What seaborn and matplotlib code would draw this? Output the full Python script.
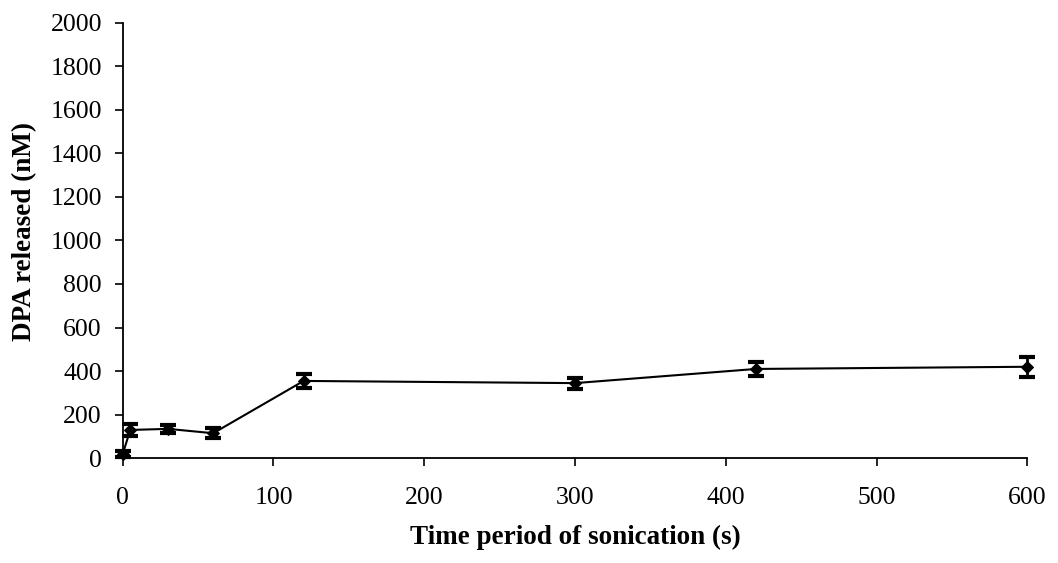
import matplotlib
matplotlib.use("Agg")
import matplotlib.pyplot as plt
import seaborn as sns
import pandas as pd

time_s = [0, 5, 30, 60, 120, 300, 420, 600]
dpa_nM = [20, 130, 135, 115, 355, 345, 410, 420]
err_nM = [12, 28, 18, 22, 32, 25, 32, 45]
x_ticks = [0, 100, 200, 300, 400, 500, 600]
y_ticks = [0, 200, 400, 600, 800, 1000, 1200, 1400, 1600, 1800, 2000]

sns.set_theme(style="ticks")
plt.rcParams['font.family'] = ['Liberation Serif', 'DejaVu Serif']
plt.rcParams['text.color'] = 'black'
plt.rcParams['axes.labelcolor'] = 'black'

df = pd.DataFrame({"t": time_s, "dpa": dpa_nM, "err": err_nM})

fig = plt.figure(figsize=(10.58, 5.63), dpi=100)
ax = fig.add_axes([0.116, 0.186, 0.855, 0.774])
sns.lineplot(data=df, x="t", y="dpa", ax=ax, color="black", lw=1.5,
             marker="D", markersize=6, markeredgecolor="black", clip_on=False)
ax.errorbar(df["t"], df["dpa"], yerr=df["err"], fmt="none", ecolor="black",
            elinewidth=2, capsize=6, capthick=3, clip_on=False)

ax.set_xlim(0, 600)
ax.set_ylim(0, 2000)
ax.set_xticks(x_ticks)
ax.set_yticks(y_ticks)
ax.tick_params(axis="both", labelsize=18.5, direction="out", length=6, width=1.2,
               colors="black", labelcolor="black")
ax.tick_params(axis="x", pad=15)
ax.tick_params(axis="y", pad=9)
for s in ["top", "right"]:
    ax.spines[s].set_visible(False)
for s in ["left", "bottom"]:
    ax.spines[s].set_color("black")
    ax.spines[s].set_linewidth(1.3)
ax.set_xlabel("Time period of sonication (s)", fontsize=19.5, fontweight="bold", labelpad=11)
ax.set_ylabel("DPA released (nM)", fontsize=19.5, fontweight="bold", labelpad=14)
ax.yaxis.set_label_coords(-0.095, 0.52)
fig.savefig("out.png", dpi=100)
